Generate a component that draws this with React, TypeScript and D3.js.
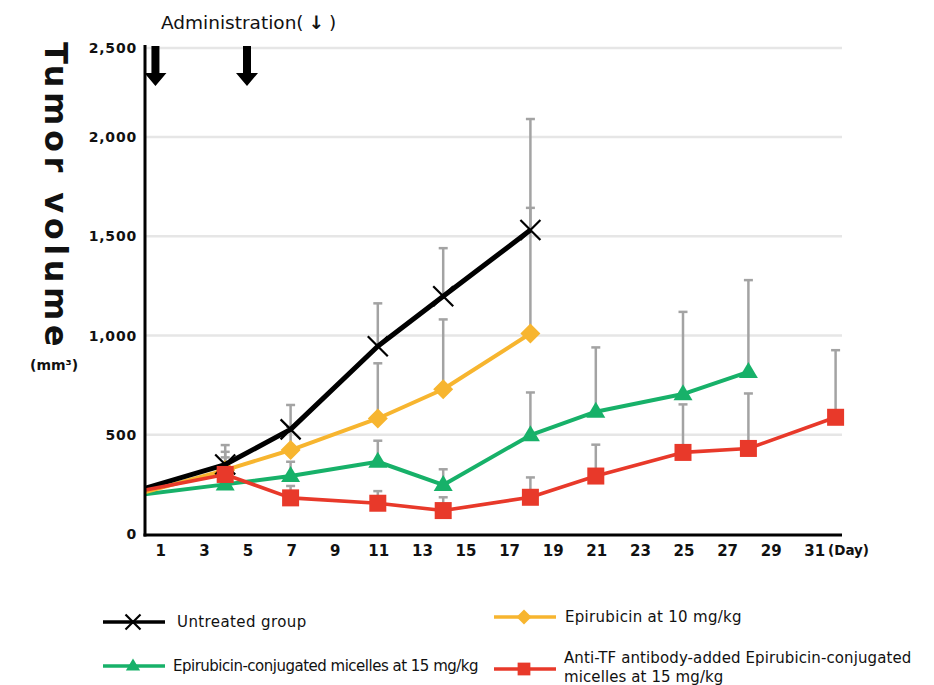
import React from 'react';
import * as d3 from 'd3';

// ── data ────────────────────────────────────────────────────────────────────
const X_TICKS = [1, 3, 5, 7, 9, 11, 13, 15, 17, 19, 21, 23, 25, 27, 29, 31];
const Y_TICKS = [0, 500, 1000, 1500, 2000, 2500];
const ADMIN_DAYS = [0.8, 5];

const UNTREATED_DAYS = [0, 4, 7, 11, 14, 18];
const UNTREATED_MEAN = [220, 350, 527, 946, 1198, 1531];
const UNTREATED_ERR = [null, 448, 650, 1162, 1440, 1643];

const EPI_DAYS = [0, 4, 7, 11, 14, 18];
const EPI_MEAN = [201, 322, 423, 582, 729, 1010];
const EPI_ERR = [null, 414, 540, 860, 1081, 2101];

const MIC_DAYS = [0, 4, 7, 11, 14, 18, 21, 25, 28];
const MIC_MEAN = [196, 250, 292, 364, 247, 498, 616, 705, 817];
const MIC_ERR = [null, 300, 364, 470, 326, 713, 940, 1119, 1279];

const TF_DAYS = [0, 4, 7, 11, 14, 18, 21, 25, 28, 32];
const TF_MEAN = [214, 300, 182, 155, 118, 185, 292, 411, 431, 588];
const TF_ERR = [null, 386, 242, 216, 185, 285, 450, 653, 708, 926];

type Marker = 'cross' | 'diamond' | 'triangle' | 'square';

interface Series {
  name: string[];
  days: number[];
  mean: number[];
  err: (number | null)[];
  color: string;
  width: number;
  marker: Marker;
}

const SERIES: Series[] = [
  { name: ['Epirubicin-conjugated micelles at 15 mg/kg'], days: MIC_DAYS, mean: MIC_MEAN, err: MIC_ERR, color: '#17b169', width: 4, marker: 'triangle' },
  { name: ['Epirubicin at 10 mg/kg'], days: EPI_DAYS, mean: EPI_MEAN, err: EPI_ERR, color: '#f7b52f', width: 4, marker: 'diamond' },
  { name: ['Untreated group'], days: UNTREATED_DAYS, mean: UNTREATED_MEAN, err: UNTREATED_ERR, color: '#000000', width: 5, marker: 'cross' },
  { name: ['Anti-TF antibody-added Epirubicin-conjugated', 'micelles at 15 mg/kg'], days: TF_DAYS, mean: TF_MEAN, err: TF_ERR, color: '#e8392a', width: 3.6, marker: 'square' },
];

const W = 934, H = 685;
const PLOT_LEFT = 145, PLOT_RIGHT = 842, PLOT_BOTTOM = 535;
const FONT = '"DejaVu Sans", sans-serif';

const x = d3.scaleLinear().domain([0, 32]).range([138, 835.6]);
// top band is drawn tighter in the original than the rest of the axis
const y = d3.scaleLinear().domain([0, 2000, 2500]).range([534, 137, 48]);

function MarkerShape({ type, cx, cy, color, s = 1 }: { type: Marker; cx: number; cy: number; color: string; s?: number }) {
  if (type === 'cross') {
    const r = 10 * s;
    return (
      <g stroke={color} strokeWidth={2.2}>
        <line x1={cx - r} y1={cy - r} x2={cx + r} y2={cy + r} />
        <line x1={cx - r} y1={cy + r} x2={cx + r} y2={cy - r} />
      </g>
    );
  }
  if (type === 'diamond') {
    const r = 10 * s;
    return <path d={`M${cx},${cy - r}L${cx + r},${cy}L${cx},${cy + r}L${cx - r},${cy}Z`} fill={color} />;
  }
  if (type === 'triangle') {
    const hw = 9.5 * s, h = 16 * s;
    return <path d={`M${cx},${cy - h * 0.62}L${cx + hw},${cy + h * 0.38}L${cx - hw},${cy + h * 0.38}Z`} fill={color} />;
  }
  const r = 8.5 * s;
  return <rect x={cx - r} y={cy - r} width={r * 2} height={r * 2} fill={color} />;
}

export default function App() {
  const line = d3.line<[number, number]>().x(d => x(d[0])).y(d => y(d[1]));

  const legendItems = [
    { s: SERIES[2], lx: 103, ly: 622, tx: 177, ls: 0.4 },
    { s: SERIES[1], lx: 494, ly: 617, tx: 565, ls: 0.3 },
    { s: SERIES[0], lx: 103, ly: 666, tx: 173, ls: -0.5 },
    { s: SERIES[3], lx: 494, ly: 669, tx: 564, ls: 0.1 },
  ];

  return (
    <svg width={W} height={H} viewBox={`0 0 ${W} ${H}`}
      style={{ position: 'absolute', left: 0, top: 0, background: '#fff', fontFamily: FONT }}>
      <defs>
        <clipPath id="plotClip">
          <rect x={PLOT_LEFT} y={0} width={W - PLOT_LEFT} height={PLOT_BOTTOM} />
        </clipPath>
      </defs>

      {/* grid */}
      {Y_TICKS.filter(t => t > 0).map(t => (
        <line key={t} x1={PLOT_LEFT} x2={PLOT_RIGHT} y1={y(t)} y2={y(t)} stroke="#e6e6e6" strokeWidth={2.5} />
      ))}

      {/* error bars */}
      {SERIES.map((s, si) => s.days.map((d, i) => {
        const e = s.err[i];
        if (e == null) return null;
        const cx = x(d);
        return (
          <g key={`e${si}-${i}`} stroke="#a3a3a3" strokeWidth={2.5}>
            <line x1={cx} x2={cx} y1={y(s.mean[i])} y2={y(e)} />
            <line x1={cx - 4.5} x2={cx + 4.5} y1={y(e)} y2={y(e)} />
          </g>
        );
      }))}

      {/* series */}
      <g clipPath="url(#plotClip)">
        {SERIES.map((s, si) => (
          <g key={`s${si}`}>
            <path d={line(s.days.map((d, i) => [d, s.mean[i]] as [number, number])) || ''}
              fill="none" stroke={s.color} strokeWidth={s.width} strokeLinejoin="round" />
            {s.days.map((d, i) => i === 0 ? null : (
              <MarkerShape key={i} type={s.marker} cx={x(d)} cy={y(s.mean[i])} color={s.color} />
            ))}
          </g>
        ))}
      </g>

      {/* axes */}
      <line x1={PLOT_LEFT} x2={PLOT_LEFT} y1={45} y2={PLOT_BOTTOM + 1.5} stroke="#000" strokeWidth={3} />
      <line x1={PLOT_LEFT - 1.5} x2={PLOT_RIGHT} y1={PLOT_BOTTOM} y2={PLOT_BOTTOM} stroke="#000" strokeWidth={3} />

      {Y_TICKS.map(t => (
        <text key={t} x={137} y={y(t)} dy="0.36em" textAnchor="end" fontSize={14} fontWeight="bold"
          letterSpacing={0.8} fill="#111">{d3.format(',')(t)}</text>
      ))}
      {X_TICKS.map(t => (
        <text key={t} x={x(t) + 1} y={556} textAnchor="middle" fontSize={15} fontWeight="bold" fill="#111">{t}</text>
      ))}
      <text x={828} y={555} fontSize={13.5} fontWeight="bold" fill="#111">(Day)</text>

      {/* administration arrows */}
      {ADMIN_DAYS.map(d => {
        const cx = x(d);
        return (
          <path key={d} fill="#000"
            d={`M${cx - 4},46L${cx + 4},46L${cx + 4},73L${cx + 11},73L${cx},86L${cx - 11},73L${cx - 4},73Z`} />
        );
      })}
      <text x={161} y={29} fontSize={18.5} fill="#111">
        Administration(<tspan fontWeight="bold" dx={5}>↓</tspan><tspan dx={5}>)</tspan>
      </text>

      {/* axis title */}
      <text transform="translate(45,42) rotate(90)" fontSize={32} fontWeight="bold" letterSpacing={4.5} fill="#111">
        Tumor volume
      </text>
      <text x={30} y={370} fontSize={14} fontWeight="bold" fill="#111">(mm³)</text>

      {/* legend */}
      {legendItems.map(({ s, lx, ly, tx, ls }, i) => (
        <g key={`l${i}`}>
          <line x1={lx} x2={lx + 62} y1={ly} y2={ly} stroke={s.color} strokeWidth={3.5} />
          <MarkerShape type={s.marker} cx={lx + 30} cy={ly} color={s.color} s={0.75} />
          {s.name.length === 1
            ? <text x={tx} y={ly + 5} fontSize={15} letterSpacing={ls} fill="#111">{s.name[0]}</text>
            : s.name.map((n, k) => (
              <text key={k} x={tx} y={ly - 6 + k * 19} fontSize={15} letterSpacing={ls} fill="#111">{n}</text>
            ))}
        </g>
      ))}
    </svg>
  );
}
